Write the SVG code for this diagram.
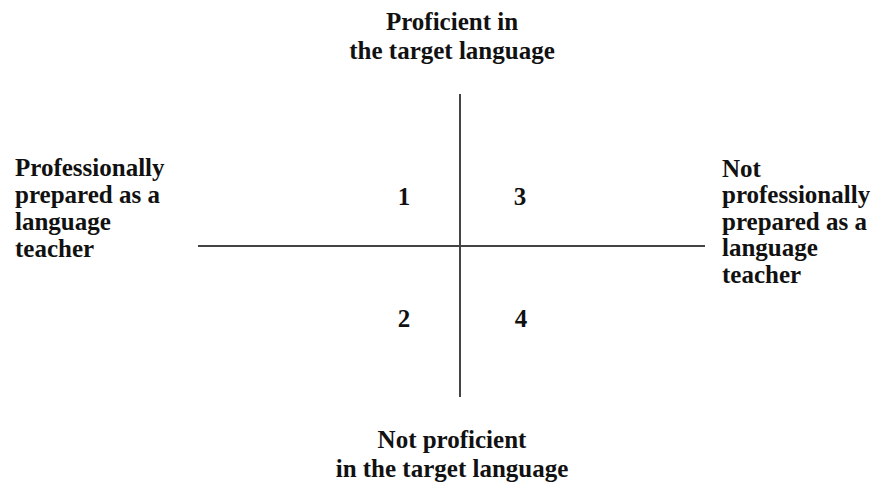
<svg xmlns="http://www.w3.org/2000/svg" width="873" height="484" viewBox="0 0 873 484">
<style>
text{font-family:"Liberation Serif","Times New Roman",serif;font-weight:bold;font-size:25px;fill:#111}
.c{text-anchor:middle}
.ax{stroke:#444;stroke-width:2;fill:none}
</style>
<rect width="873" height="484" fill="#fff"/>
<g id="connectors">
<line class="ax" x1="460" y1="94" x2="460" y2="397"/>
<line class="ax" x1="198" y1="246" x2="705" y2="246"/>
</g>
<g id="top">
<text class="c" x="452" y="30">Proficient in</text>
<text class="c" x="452" y="59">the target language</text>
</g>
<g id="left">
<text x="15" y="176">Professionally</text>
<text x="15" y="203">prepared as a</text>
<text x="15" y="230">language</text>
<text x="15" y="257">teacher</text>
</g>
<g id="right">
<text x="722" y="177">Not</text>
<text x="722" y="203">professionally</text>
<text x="722" y="230">prepared as a</text>
<text x="722" y="256">language</text>
<text x="722" y="283">teacher</text>
</g>
<g id="bottom">
<text class="c" x="452" y="448">Not proficient</text>
<text class="c" x="452" y="477">in the target language</text>
</g>
<g id="q1"><text class="c" x="404" y="205">1</text></g>
<g id="q3"><text class="c" x="520" y="205">3</text></g>
<g id="q2"><text class="c" x="404" y="327">2</text></g>
<g id="q4"><text class="c" x="521" y="327">4</text></g>
</svg>
